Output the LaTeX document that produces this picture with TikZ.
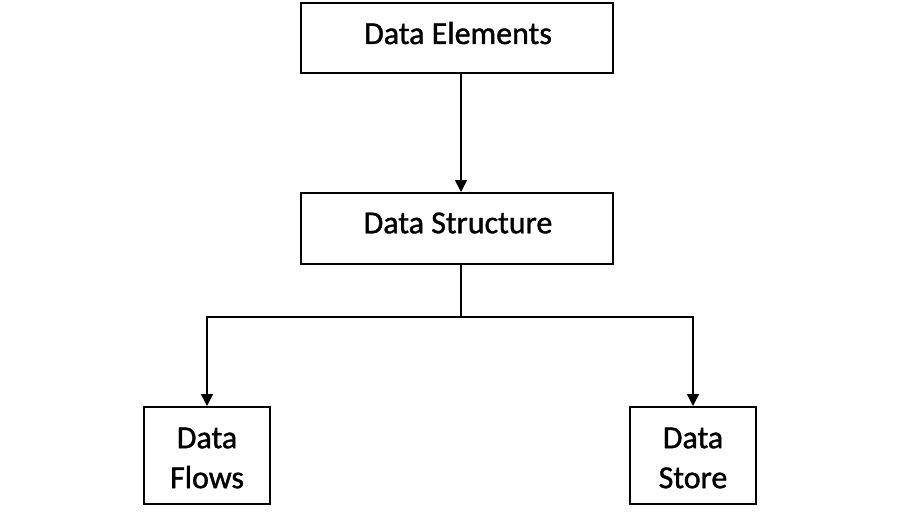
\documentclass[tikz,border=0pt]{standalone}
\usepackage{fontspec}
\setmainfont{Carlito}
\newfontfamily\lblfont[FakeBold=1.2]{Carlito}
\usetikzlibrary{arrows.meta}
\begin{document}
\begin{tikzpicture}[x=1pt,y=-1pt,
  box/.style={draw=black,line width=2pt,fill=white,inner sep=0pt},
  lbl/.style={font=\fontsize{32}{40}\lblfont,align=center,inner sep=0pt},
  conn/.style={draw=black,line width=1.6pt},
  arr/.style={conn,-{Triangle[width=12pt,length=12pt]}}]
\useasboundingbox[fill=white] (0,0) rectangle (900,520);
\node[box,minimum width=312pt,minimum height=70pt] (elem) at (457,38) {};
\node[box,minimum width=312pt,minimum height=71pt] (struct) at (457,228.5) {};
\node[box,minimum width=126pt,minimum height=97pt] (flows) at (207,455.5) {};
\node[box,minimum width=126pt,minimum height=97pt] (store) at (693,455.5) {};
\node[lbl] (elemt) at (458,33) {Data Elements};
\node[lbl] (structt) at (458,223) {Data Structure};
\node[lbl] (flowst) at (207,458) {Data\\Flows};
\node[lbl] (storet) at (693,458) {Data\\Store};
\coordinate (j) at (461,317);
\draw[arr] (elem.south -| j) -- (struct.north -| j);
\draw[conn] (struct.south -| j) -- (j);
\draw[arr] (j) -| (flows.north);
\draw[arr] (j) -| (store.north);
\end{tikzpicture}
\end{document}
